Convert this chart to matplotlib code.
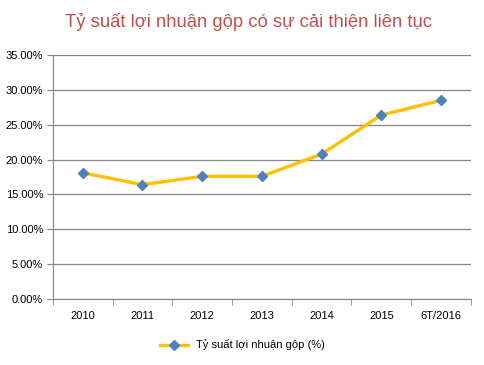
import numpy as np
import matplotlib.pyplot as plt
from matplotlib.ticker import FuncFormatter

years = ['2010', '2011', '2012', '2013', '2014', '2015', '6T/2016']
margin = [18.1, 16.4, 17.6, 17.6, 20.8, 26.4, 28.5]

plt.rcParams['font.family'] = ['Liberation Sans', 'DejaVu Sans']

fig = plt.figure(figsize=(4.85, 3.65), dpi=100)
ax = fig.add_axes([0.109, 0.181, 0.862, 0.668])

x = np.arange(len(years))
ax.plot(x, margin, color='#FFC000', linewidth=2.4, marker='D', markersize=5.5,
        markerfacecolor='#4F81BD', markeredgecolor='#4F81BD',
        label='Tỷ suất lợi nhuận gộp (%)')

ax.set_xlim(-0.5, len(years) - 0.5)
ax.set_ylim(0, 35)
ax.set_yticks(np.arange(0, 36, 5))
ax.yaxis.set_major_formatter(FuncFormatter(lambda v, p: '%.2f%%' % v))
ax.set_xticks(x)
ax.set_xticklabels(years)
ax.set_xticks(np.arange(-0.5, len(years), 1), minor=True)
ax.tick_params(axis='x', which='major', length=0, pad=9, labelsize=8)
ax.tick_params(axis='x', which='minor', length=4, color='#868686')
ax.tick_params(axis='y', length=4, color='#868686', labelsize=8, pad=3)

ax.grid(axis='y', color='#868686', linewidth=0.9)
ax.set_axisbelow(True)
for s in ['top', 'right']:
    ax.spines[s].set_visible(False)
ax.spines['left'].set_color('#868686')
ax.spines['bottom'].set_color('#868686')

fig.text(0.512, 0.94, 'Tỷ suất lợi nhuận gộp có sự cải thiện liên tục',
         ha='center', va='center', fontsize=13.3, color='#C0504D')

fig.legend(loc='center', bbox_to_anchor=(0.5, 0.055), frameon=False,
           fontsize=8, handlelength=2.5)

fig.savefig('out.png', dpi=100)
